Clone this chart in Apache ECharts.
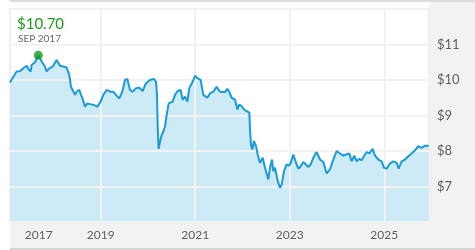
<!DOCTYPE html>
<html><head><meta charset="utf-8">
<script src="https://cdn.jsdelivr.net/npm/echarts@6/dist/echarts.min.js"></script>
<style>html,body{margin:0;padding:0;background:#fff}#c{width:475px;height:250px}</style>
</head><body><div id="c"></div>
<script>
// dates as decimal years, prices in dollars
const dates = [
2017.081,2017.152,2017.222,2017.293,2017.363,2017.434,2017.469,2017.518,2017.539,2017.610,
2017.680,2017.751,2017.821,2017.857,2017.913,2017.984,2018.068,2018.139,2018.209,2018.280,
2018.336,2018.371,2018.456,2018.491,2018.548,2018.583,2018.618,2018.668,2018.717,2018.773,
2018.844,2018.929,2018.999,2019.055,2019.126,2019.197,2019.267,2019.323,2019.394,2019.457,
2019.514,2019.563,2019.620,2019.676,2019.747,2019.817,2019.888,2019.958,2020.043,2020.127,
2020.170,2020.191,2020.205,2020.226,2020.254,2020.290,2020.325,2020.360,2020.395,2020.438,
2020.522,2020.572,2020.628,2020.692,2020.734,2020.783,2020.833,2020.875,2020.945,2020.995,
2021.044,2021.115,2021.171,2021.256,2021.312,2021.383,2021.453,2021.524,
2021.630,2021.679,2021.721,2021.771,2021.841,2021.891,2021.933,2021.982,2022.032,2022.088,
2022.145,2022.159,2022.180,2022.208,2022.243,2022.286,2022.321,2022.370,2022.427,2022.476,
2022.547,2022.582,2022.624,2022.652,2022.688,2022.737,2022.793,2022.829,2022.878,2022.934,
2022.991,2023.026,2023.075,2023.132,2023.181,2023.231,2023.287,2023.343,2023.393,2023.442,
2023.498,2023.569,2023.640,2023.710,2023.781,2023.851,2023.922,2023.992,2024.063,2024.133,
2024.190,2024.260,2024.310,2024.366,2024.415,2024.472,2024.521,2024.570,2024.627,2024.683,
2024.754,2024.803,2024.874,2024.944,2024.993,2025.050,2025.120,2025.191,2025.261,2025.304,
2025.367,2025.438,2025.508,2025.579,2025.650,2025.720,2025.790,2025.861,2025.940
];
const prices = [
9.93,10.09,10.24,10.25,10.33,10.40,10.31,10.24,10.42,10.50,
10.70,10.52,10.38,10.24,10.33,10.38,10.56,10.40,10.38,10.35,
10.14,9.81,9.58,9.67,9.72,9.58,9.47,9.25,9.34,9.32,
9.30,9.25,9.39,9.58,9.72,9.67,9.67,9.58,9.48,9.67,
10.00,10.03,9.72,9.67,9.77,9.78,9.69,9.91,10.00,10.03,
9.95,9.58,8.73,8.06,8.26,8.45,8.55,8.69,9.01,9.34,
9.39,9.58,9.69,9.72,9.44,9.53,9.39,9.77,9.95,10.12,
10.05,10.00,9.58,9.50,9.62,9.67,9.81,9.67,
9.66,9.75,9.66,9.50,9.45,9.17,9.31,9.26,9.17,9.12,
9.08,8.61,8.18,8.04,8.28,8.14,7.90,7.67,7.81,7.53,
7.20,7.53,7.76,7.43,7.53,7.20,6.96,7.06,7.43,7.62,
7.59,7.69,7.90,7.67,7.50,7.57,7.69,7.62,7.55,7.62,
7.81,7.97,7.76,7.69,7.37,7.48,7.76,8.00,7.93,7.87,
7.90,7.93,7.71,7.87,7.71,7.78,7.74,7.85,7.97,7.93,
8.06,7.87,7.76,7.71,7.53,7.50,7.65,7.71,7.67,7.50,
7.71,7.76,7.85,7.93,8.02,8.14,8.09,8.15,8.15
];
const xLabelValues = [2017.69, 2019, 2021, 2023, 2025];
const xTickLabels = ['2017', '2019', '2021', '2023', '2025'];
const xGridValues = [2019, 2021, 2023, 2025];
const yTickValues = [7, 8, 9, 10, 11];
const peakDate = 2017.680;
const peakPrice = 10.70;
const peakPriceLabel = '$10.70';
const peakDateLabel = 'SEP 2017';

const series = dates.map((d, i) => [d, prices[i]]);
const FONT = 'Lato, "DejaVu Sans", sans-serif';

const chart = echarts.init(document.getElementById('c'), null, {renderer: 'canvas'});
chart.setOption({
  animation: false,
  backgroundColor: '#ffffff',
  grid: {left: 10, right: 46, top: 9, bottom: 28, show: true, z: -2,
         backgroundColor: 'transparent', borderColor: '#efefef', borderWidth: 2},
  xAxis: {
    type: 'value', min: 2017.081, max: 2025.946,
    axisLine: {show: false},
    axisTick: {show: false, customValues: xGridValues},
    splitLine: {show: true, lineStyle: {color: '#f2f2f2', width: 2}},
    axisLabel: {
      customValues: xLabelValues,
      formatter: v => { const i = xLabelValues.findIndex(x => Math.abs(x - v) < 1e-6); return i >= 0 ? xTickLabels[i] : ''; },
      color: '#606060', fontSize: 12, fontFamily: FONT, margin: 7
    }
  },
  yAxis: {
    type: 'value', position: 'right', min: 6, max: 12, interval: 1,
    axisLine: {show: false}, axisTick: {show: false},
    splitLine: {show: true, lineStyle: {color: '#f2f2f2', width: 2}},
    axisLabel: {
      formatter: v => yTickValues.indexOf(v) >= 0 ? '$' + v : '',
      color: '#606060', fontSize: 13, fontFamily: FONT, margin: 8
    }
  },
  graphic: {elements: [
    {type: 'rect', z: -10, shape: {x: 10, y: 0, width: 465, height: 2}, style: {fill: '#dcdcdc'}},
    {type: 'rect', z: -10, shape: {x: 429, y: 2, width: 46, height: 246}, style: {fill: '#f2f2f2'}},
    {type: 'rect', z: -10, shape: {x: 10, y: 222, width: 419, height: 26}, style: {fill: '#f2f2f2'}},
    {type: 'rect', z: -10, shape: {x: 10, y: 248, width: 465, height: 2}, style: {fill: '#d4d4d4'}},
    {type: 'text', z: 10, left: 17, top: 17, style: {text: peakPriceLabel, fill: '#1d9a1d', font: '15px ' + FONT}},
    {type: 'text', z: 10, left: 18, top: 34, style: {text: peakDateLabel, fill: '#666666', font: '10px ' + FONT}}
  ]},
  series: [
    {type: 'line', z: -1, data: series, showSymbol: false, symbol: 'none',
     lineStyle: {width: 0, opacity: 0}, areaStyle: {color: '#cdeaf7', opacity: 1, origin: 'start'}, silent: true},
    {type: 'line', z: 3, data: series, showSymbol: false, symbol: 'none',
     lineStyle: {width: 2, color: '#1a9ad6'}, silent: true},
    {type: 'scatter', z: 4, data: [[peakDate, peakPrice]], symbolSize: 9,
     itemStyle: {color: '#169a16'}, silent: true}
  ]
});
</script></body></html>
